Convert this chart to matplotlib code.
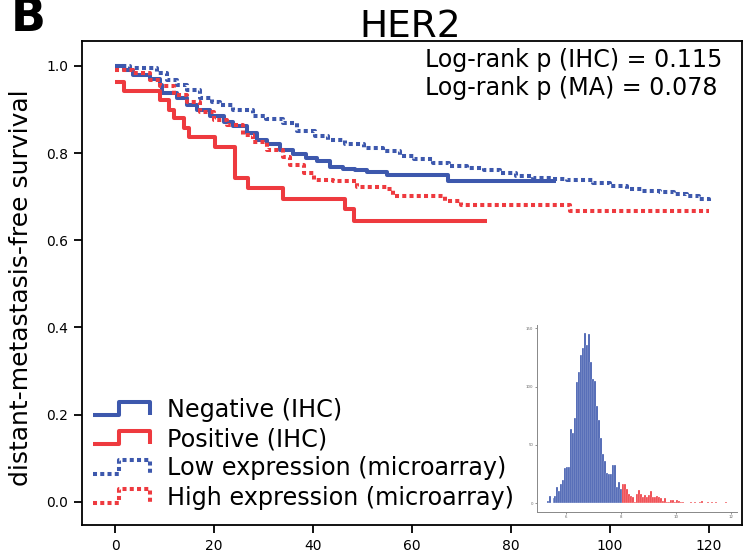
import numpy as np
import matplotlib.pyplot as plt
from matplotlib.lines import Line2D
from matplotlib.legend_handler import HandlerLine2D

# Kaplan-Meier curves (months, survival)
neg_t = [0, 1.7, 3.7, 7.1, 9.1, 9.4, 12.5, 14.5, 16.5, 19.2, 21.9, 23.9, 26.6, 28.6,
         30.6, 33.3, 36.0, 38.5, 40.7, 43.4, 46.0, 48.5, 51.0, 54.9, 67.2, 89.2]
neg_s = [1.0, 0.990, 0.979, 0.970, 0.956, 0.937, 0.926, 0.911, 0.899, 0.884, 0.872, 0.861,
         0.846, 0.830, 0.820, 0.808, 0.797, 0.788, 0.781, 0.769, 0.764, 0.760, 0.756, 0.750,
         0.736, 0.736]

pos_t = [0, 1.8, 9.0, 10.9, 11.9, 13.9, 15.0, 20.2, 24.2, 26.9, 34.0, 46.5, 48.2, 75.1]
pos_s = [0.963, 0.943, 0.922, 0.899, 0.880, 0.857, 0.836, 0.813, 0.742, 0.719, 0.695,
         0.671, 0.645, 0.645]

low_t = [0, 3, 8.4, 10.4, 12.5, 14.5, 17.2, 19.5, 21.2, 23.9, 27.9, 30.5, 34.0, 36.7,
         40.4, 43.0, 46.5, 50.2, 54.2, 57.6, 60.5, 64.3, 67.5, 71.1, 74.5, 77.8, 81.0,
         84.5, 88.0, 91.3, 96.6, 100.0, 103.4, 106.5, 110.1, 113.0, 115.5, 118.0, 120.0]
low_s = [1.0, 0.995, 0.983, 0.968, 0.957, 0.945, 0.926, 0.918, 0.911, 0.899, 0.886, 0.877,
         0.868, 0.851, 0.838, 0.830, 0.820, 0.811, 0.805, 0.793, 0.786, 0.777, 0.771, 0.765,
         0.760, 0.754, 0.748, 0.742, 0.740, 0.738, 0.731, 0.725, 0.718, 0.714, 0.710, 0.706,
         0.701, 0.695, 0.691]

high_t = [0, 3.7, 7.1, 9.1, 11.8, 14.5, 17.2, 19.9, 22.6, 25.9, 27.9, 30.6, 34.0, 35.4,
          38.1, 40.1, 44.1, 48.8, 54.9, 56.2, 66.7, 70.0, 91.9, 120.0]
high_s = [0.99, 0.983, 0.968, 0.953, 0.933, 0.918, 0.895, 0.876, 0.865, 0.842, 0.825,
          0.807, 0.792, 0.773, 0.754, 0.739, 0.735, 0.723, 0.717, 0.701, 0.690, 0.680,
          0.668, 0.668]

labels = ["Negative (IHC)", "Positive (IHC)",
          "Low expression (microarray)", "High expression (microarray)"]

# inset histogram of HER2 microarray expression
hist_start = 5.30
hist_width = 0.072
low_counts = [2, 6, 0, 4, 6, 14, 10, 16, 20, 30, 31, 31, 64, 60, 73, 104, 113, 127, 133,
              146, 136, 145, 121, 107, 105, 83, 71, 56, 42, 36, 26, 25, 25, 33, 33, 14, 18, 12]
high_counts = [16, 16, 12, 8, 6, 5, 1, 8, 11, 8, 5, 7, 5, 7, 10, 5, 5, 6, 5, 4, 2, 4, 1, 1,
               3, 3, 1, 3, 2, 1, 1, 0, 0, 0, 1, 0, 1, 0, 0, 1, 2, 0, 0, 1, 0, 1, 0, 1, 0,
               0, 0, 0, 1]

BLUE = '#3D58AD'
RED = '#EE3A3F'


class StepHandler(HandlerLine2D):
    # legend key drawn as a small step
    def create_artists(self, legend, orig_handle, xdescent, ydescent, width, height,
                       fontsize, trans):
        x0, y0 = -xdescent, -ydescent
        xm = x0 + 0.45 * width
        lo, hi = y0 + 0.1 * height, y0 + 0.9 * height
        line = Line2D([x0, xm, xm, x0 + width, x0 + width], [lo, lo, hi, hi, lo])
        self.update_prop(line, orig_handle, legend)
        line.set_drawstyle('default')
        line.set_transform(trans)
        return [line]


fig = plt.figure(figsize=(7.53, 5.60), dpi=100)
ax = fig.add_axes([0.1089, 0.0625, 0.8765, 0.8643])

dots = (0, (1.0, 0.8))
h1, = ax.plot(neg_t, neg_s, drawstyle='steps-post', color=BLUE, lw=2.9, solid_capstyle='butt')
h2, = ax.plot(pos_t, pos_s, drawstyle='steps-post', color=RED, lw=2.9, solid_capstyle='butt')
h3, = ax.plot(low_t, low_s, drawstyle='steps-post', color=BLUE, lw=2.9, linestyle=dots,
              dash_capstyle='butt')
h4, = ax.plot(high_t, high_s, drawstyle='steps-post', color=RED, lw=2.9, linestyle=dots,
              dash_capstyle='butt')

ax.set_xlim(-6.7, 126.7)
ax.set_ylim(-0.053, 1.057)
ax.set_xticks([0, 20, 40, 60, 80, 100, 120])
ax.set_yticks([0, 0.2, 0.4, 0.6, 0.8, 1.0])
ax.set_yticklabels(['0.0', '0.2', '0.4', '0.6', '0.8', '1.0'])
ax.tick_params(direction='out', length=6, width=1.3, labelsize=10, pad=4)
for sp in ax.spines.values():
    sp.set_linewidth(1.3)

ax.set_ylabel('distant-metastasis-free survival', fontsize=18)
ax.yaxis.set_label_coords(-0.074, 0.49)

ax.text(0.52, 0.946, 'Log-rank p (IHC) = 0.115', transform=ax.transAxes,
        fontsize=17.1, ha='left', va='baseline')
ax.text(0.52, 0.888, 'Log-rank p (MA) = 0.078', transform=ax.transAxes,
        fontsize=17.1, ha='left', va='baseline')

leg = ax.legend([h1, h2, h3, h4], labels, loc='lower left', bbox_to_anchor=(0.0167, 0.032),
                frameon=False, fontsize=17.2, handlelength=2.4, handletextpad=0.7,
                labelspacing=0.22, borderpad=0, borderaxespad=0,
                handler_map={Line2D: StepHandler()})

fig.text(0.545, 0.934, 'HER2', fontsize=27, ha='center', va='baseline')
fig.text(0.014, 0.944, 'B', fontsize=33, fontweight='bold', ha='left', va='baseline')

# inset histogram
ins = fig.add_axes([0.713, 0.0857, 0.2656, 0.334])
ins.set_facecolor('none')
counts = low_counts + high_counts
edges = hist_start + hist_width * np.arange(len(counts) + 1)
colors = [BLUE] * len(low_counts) + [RED] * len(high_counts)
ins.bar(edges[:-1], counts, width=hist_width, align='edge', color=colors,
        edgecolor='white', linewidth=0.2)
ins.set_xlim(4.95, 12.2)
ins.set_ylim(-7.7, 153)
ins.set_xticks([6, 8, 10, 12])
ins.set_yticks([0, 50, 100, 150])
ins.tick_params(labelsize=2.8, length=1.5, width=0.5, pad=1, colors='#666666')
for s in ['top', 'right']:
    ins.spines[s].set_visible(False)
for s in ['left', 'bottom']:
    ins.spines[s].set_color('#888888')
    ins.spines[s].set_linewidth(0.7)

fig.savefig('out.png', dpi=100)
